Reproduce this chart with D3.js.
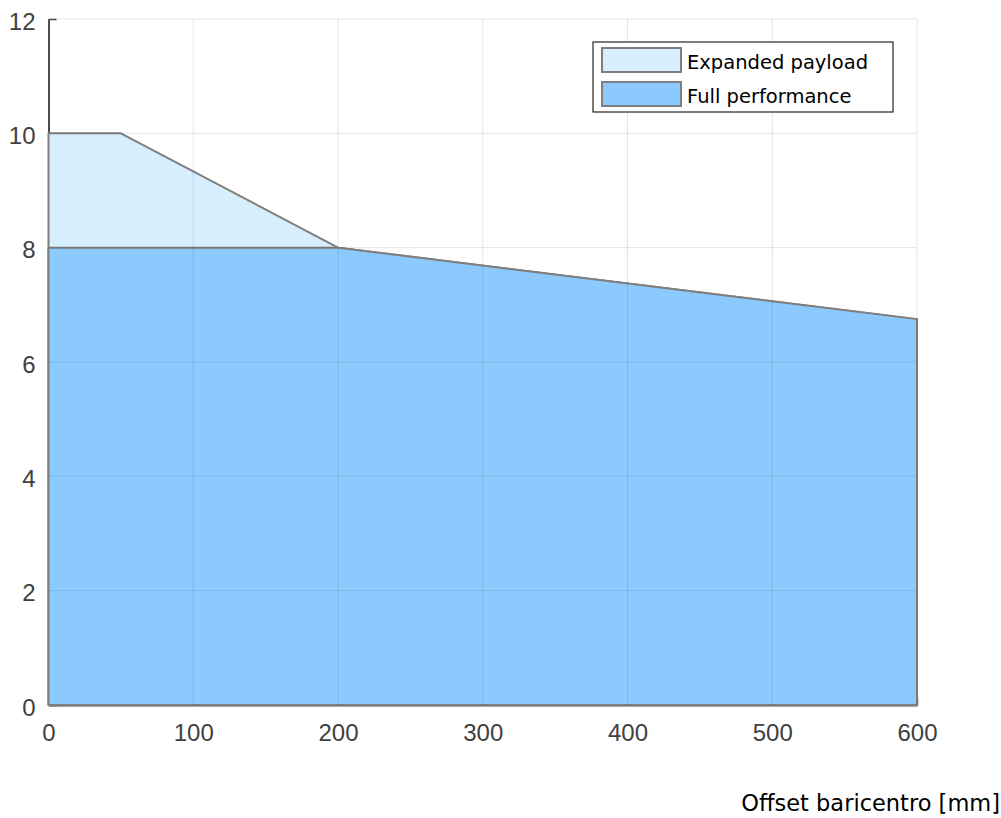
<!DOCTYPE html>
<html>
<head>
<meta charset="utf-8">
<script src="https://cdn.jsdelivr.net/npm/d3@7"></script>
<style>
  body { margin: 0; background: #fff; }
  text { font-family: "DejaVu Sans", "Liberation Sans", Arial, sans-serif; }
</style>
</head>
<body>
<script>
const width = 1001;
const height = 818;

// data
const expandedX = [0, 50, 200, 600];
const expandedY = [10, 10, 8, 6.75];
const fullX = [0, 200, 600];
const fullY = [8, 8, 6.75];
const xTicks = [0, 100, 200, 300, 400, 500, 600];
const yTicks = [0, 2, 4, 6, 8, 10, 12];
const seriesNames = ["Expanded payload", "Full performance"];
const seriesColors = ["#d7eefc", "#8ccafe"];
const xLabel = "Offset baricentro [mm]";

const x = d3.scaleLinear().domain([0, 600]).range([48.5, 917]);
const y = d3.scaleLinear().domain([0, 12]).range([705, 19]);

const svg = d3.select("body").append("svg")
  .attr("width", width)
  .attr("height", height);

// axes first, the filled areas cover the inner ticks like in matlab
const xAxis = d3.axisBottom(x).tickValues(xTicks).tickSizeInner(-8).tickSizeOuter(0).tickPadding(19);
const yAxis = d3.axisLeft(y).tickValues(yTicks).tickSizeInner(-8).tickSizeOuter(0).tickPadding(13);

const gx = svg.append("g").attr("transform", `translate(0,${y(0)})`).call(xAxis);
const gy = svg.append("g").attr("transform", `translate(${x(0)},0)`).call(yAxis);
[gx, gy].forEach(g => {
  g.select(".domain").attr("stroke", "#4d4d4d").attr("stroke-width", 2);
  g.selectAll(".tick line").attr("stroke", "#4d4d4d").attr("stroke-width", 1.5);
  g.selectAll(".tick text").attr("fill", "#404040").style("font-size", "24px")
    .style("font-family", "'Liberation Sans', Arial, sans-serif");
});
gy.selectAll(".tick text").attr("dy", "0.42em");

const area = d3.area()
  .x(d => x(d[0]))
  .y0(y(0))
  .y1(d => y(d[1]));

const expanded = expandedX.map((v, i) => [v, expandedY[i]]);
const full = fullX.map((v, i) => [v, fullY[i]]);

[expanded, full].forEach((pts, i) => {
  svg.append("path")
    .attr("d", area(pts))
    .attr("fill", seriesColors[i])
    .attr("stroke", "#7f7f7f")
    .attr("stroke-width", 2)
    .attr("stroke-linejoin", "round");
});

// grid on top, translucent
const grid = svg.append("g");
grid.selectAll("line.gx")
  .data(xTicks.slice(1))
  .join("line")
  .attr("x1", d => x(d)).attr("x2", d => x(d))
  .attr("y1", y(0)).attr("y2", y(12))
  .attr("stroke", "#262626").attr("stroke-opacity", 0.12).attr("stroke-width", 1);
grid.selectAll("line.gy")
  .data(yTicks.slice(1))
  .join("line")
  .attr("x1", x(0)).attr("x2", x(600))
  .attr("y1", d => y(d)).attr("y2", d => y(d))
  .attr("stroke", "#262626").attr("stroke-opacity", 0.12).attr("stroke-width", 1);

svg.append("text")
  .attr("x", 1000)
  .attr("y", 811)
  .attr("text-anchor", "end")
  .attr("fill", "#000")
  .style("font-size", "22.5px")
  .text(xLabel);

// legend
const legend = svg.append("g").attr("transform", "translate(593,42)");
legend.append("rect")
  .attr("width", 300).attr("height", 70)
  .attr("fill", "#fff").attr("stroke", "#262626").attr("stroke-width", 1.2);
seriesNames.forEach((name, i) => {
  legend.append("rect")
    .attr("x", 9).attr("y", 6 + i * 34)
    .attr("width", 79).attr("height", 24)
    .attr("fill", seriesColors[i])
    .attr("stroke", "#7f7f7f").attr("stroke-width", 2);
  legend.append("text")
    .attr("x", 94).attr("y", 20 + i * 34)
    .attr("dy", "0.36em")
    .attr("fill", "#000")
    .style("font-size", "19.5px")
    .text(name);
});
</script>
</body>
</html>
